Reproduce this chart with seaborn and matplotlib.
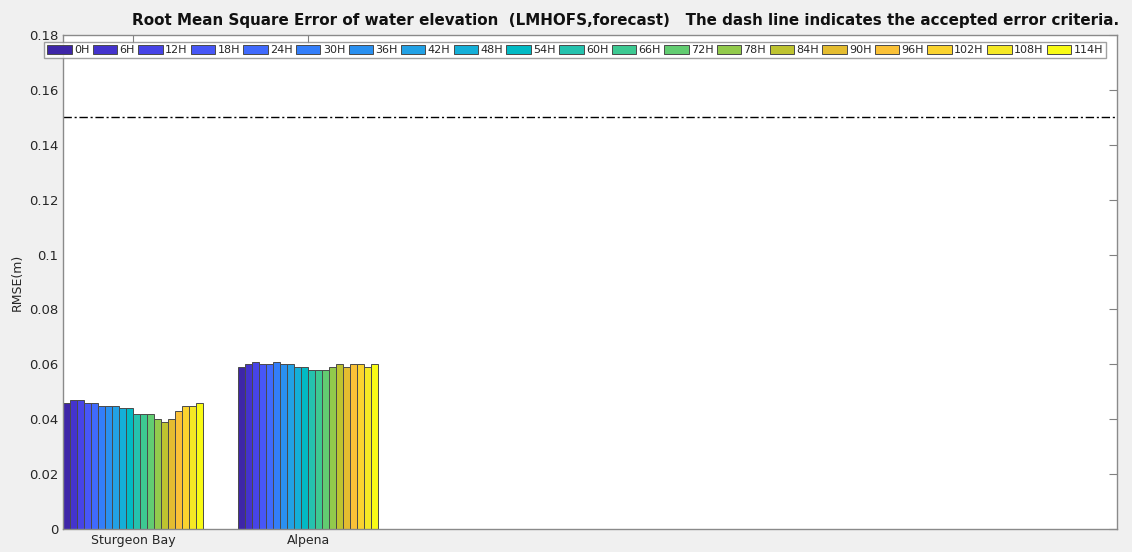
import numpy as np
import pandas as pd
import matplotlib
matplotlib.use("Agg")
import matplotlib.pyplot as plt
from matplotlib.colors import LinearSegmentedColormap
from matplotlib.ticker import FuncFormatter
import seaborn as sns

# ---- data ----
stations = ["Sturgeon Bay", "Alpena"]
hours = ["0H", "6H", "12H", "18H", "24H", "30H", "36H", "42H", "48H", "54H",
         "60H", "66H", "72H", "78H", "84H", "90H", "96H", "102H", "108H", "114H"]
sturgeon_bay = [0.046, 0.047, 0.047, 0.046, 0.046, 0.045, 0.045, 0.045, 0.044, 0.044,
                0.042, 0.042, 0.042, 0.040, 0.039, 0.040, 0.043, 0.045, 0.045, 0.046]
alpena = [0.059, 0.060, 0.061, 0.060, 0.060, 0.061, 0.060, 0.060, 0.059, 0.059,
          0.058, 0.058, 0.058, 0.059, 0.060, 0.059, 0.060, 0.060, 0.059, 0.060]
criteria = 0.15
yticks = [0, 0.02, 0.04, 0.06, 0.08, 0.1, 0.12, 0.14, 0.16, 0.18]
title = ("Root Mean Square Error of water elevation  (LMHOFS,forecast)   "
         "The dash line indicates the accepted error criteria.")

# ---- parula colormap (anchors) ----
parula_anchors = [
    (0.2422, 0.1504, 0.6603), (0.2647, 0.1978, 0.7952), (0.2783, 0.2559, 0.8991),
    (0.2810, 0.3228, 0.9579), (0.2699, 0.3892, 0.9906), (0.2206, 0.4603, 0.9973),
    (0.1786, 0.5289, 0.9682), (0.1540, 0.5902, 0.9218), (0.1248, 0.6459, 0.8883),
    (0.0689, 0.6948, 0.8394), (0.0067, 0.7312, 0.7660), (0.1408, 0.7584, 0.6842),
    (0.2161, 0.7843, 0.5923), (0.3406, 0.8008, 0.4789), (0.5044, 0.7993, 0.3480),
    (0.6720, 0.7793, 0.2227), (0.8203, 0.7498, 0.1535), (0.9393, 0.7288, 0.2100),
    (0.9970, 0.7659, 0.2199), (0.9786, 0.8386, 0.1766), (0.9597, 0.9135, 0.1423),
    (0.9769, 0.9839, 0.0805)]
parula = LinearSegmentedColormap.from_list("parula", parula_anchors)
palette = [parula(v) for v in np.linspace(0, 1, len(hours))]

df = pd.DataFrame({
    "station": np.repeat(stations, len(hours)),
    "hour": hours * len(stations),
    "rmse": sturgeon_bay + alpena,
})

sns.set_style("white")
plt.rcParams["font.family"] = ["DejaVu Sans"]

fig = plt.figure(figsize=(11.32, 5.52), dpi=100, facecolor="#f0f0f0")
ax = fig.add_axes([63/1132, 1-529/552, (1117-63)/1132, (529-35)/552])
ax.set_facecolor("white")

sns.barplot(data=df, x="station", y="rmse", hue="hour", order=stations,
            hue_order=hours, palette=palette, width=0.8, gap=0,
            edgecolor="#4a4a4a", linewidth=0.7, errorbar=None, ax=ax,
            saturation=1)

ax.axhline(criteria, color="black", linestyle=(0, (6, 2, 1.5, 2)), linewidth=1.0)

ax.set_xlim(-0.4, 5.62)
ax.set_ylim(0, 0.18)
ax.set_yticks(yticks)
ax.yaxis.set_major_formatter(FuncFormatter(lambda v, p: "%g" % v))
ax.set_xlabel("")
ax.set_ylabel("RMSE(m)", fontsize=9, color="#262626")
ax.yaxis.set_label_coords(-0.037, 0.5)

ax.tick_params(axis="both", direction="in", length=6, width=0.8,
               colors="#808080", labelcolor="#262626", labelsize=9.5,
               top=True, right=True)
ax.tick_params(axis="x", labelsize=9)
for s in ax.spines.values():
    s.set_color("#8a8a8a")
    s.set_linewidth(1.0)
    s.set_visible(True)

fig.text(626/1132, 1-20/552, title, ha="center", va="center",
         fontsize=10.9, fontweight="bold", color="#111111")

handles, labels = ax.get_legend_handles_labels()
if ax.legend_:
    ax.legend_.remove()
leg = fig.legend(handles, labels, ncol=len(hours), loc="upper center",
                 bbox_to_anchor=(575/1132, 1-42/552), fontsize=8.0,
                 frameon=True, fancybox=False, edgecolor="#8a8a8a",
                 handlelength=2.2, handleheight=0.85, handletextpad=0.2,
                 columnspacing=0.31, borderpad=0.25, borderaxespad=0)
leg.get_frame().set_linewidth(1.0)
leg.get_frame().set_facecolor("white")
for t in leg.get_texts():
    t.set_color("#262626")

fig.savefig("out.png", dpi=100, facecolor=fig.get_facecolor())
